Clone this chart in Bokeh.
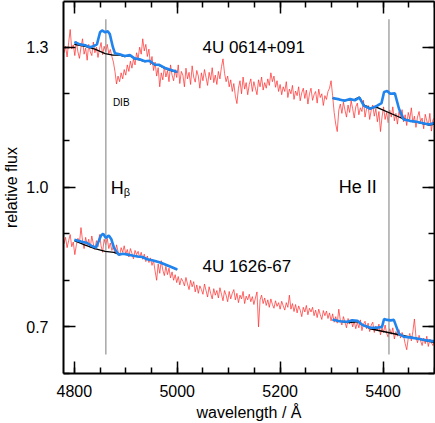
import numpy as np
from bokeh.plotting import figure
from bokeh.models import LinearAxis, FixedTicker, Range1d, Label
from bokeh.embed import file_html
from bokeh.resources import INLINE

FONT = "Liberation Sans"

# sampling grid of the observed spectra (Angstrom)
wl_start = 4780
wl_step = 3

# 4U 0614+091 observed spectrum (relative flux), 4780..5500 A
top_flux = [
    1.288, 1.302, 1.279, 1.310, 1.338, 1.296, 1.305, 1.282, 1.312, 1.290,
    1.276, 1.300, 1.318, 1.285, 1.298, 1.272, 1.306, 1.290, 1.282, 1.311,
    1.288, 1.300, 1.278, 1.296, 1.310, 1.284, 1.302, 1.290, 1.306, 1.286,
    1.295, 1.280, 1.268, 1.248, 1.221, 1.238, 1.226, 1.245, 1.232, 1.252,
    1.240, 1.262, 1.248, 1.270, 1.255, 1.275, 1.262, 1.288, 1.276, 1.300,
    1.285, 1.318, 1.292, 1.306, 1.280, 1.296, 1.262, 1.280, 1.250, 1.268,
    1.238, 1.256, 1.215, 1.245, 1.230, 1.258, 1.236, 1.250, 1.226, 1.262,
    1.240, 1.228, 1.252, 1.235, 1.262, 1.222, 1.248, 1.240, 1.215, 1.255,
    1.232, 1.246, 1.220, 1.260, 1.236, 1.225, 1.250, 1.238, 1.212, 1.245,
    1.228, 1.252, 1.235, 1.218, 1.246, 1.230, 1.256, 1.224, 1.240, 1.220,
    1.248, 1.232, 1.258, 1.275, 1.244, 1.226, 1.238, 1.215, 1.230, 1.205,
    1.222, 1.195, 1.179, 1.212, 1.228, 1.200, 1.236, 1.210, 1.224, 1.198,
    1.220, 1.232, 1.205, 1.226, 1.212, 1.198, 1.230, 1.215, 1.236, 1.208,
    1.224, 1.212, 1.232, 1.218, 1.245, 1.226, 1.238, 1.214, 1.228, 1.205,
    1.220, 1.198, 1.215, 1.205, 1.226, 1.192, 1.210, 1.200, 1.218, 1.188,
    1.206, 1.196, 1.215, 1.185, 1.202, 1.212, 1.190, 1.208, 1.178, 1.200,
    1.212, 1.186, 1.198, 1.205, 1.180, 1.210, 1.192, 1.200, 1.175, 1.196,
    1.188, 1.205, 1.212, 1.228, 1.196, 1.160, 1.135, 1.119, 1.165, 1.178,
    1.158, 1.182, 1.165, 1.150, 1.176, 1.160, 1.185, 1.168, 1.148, 1.172,
    1.180, 1.155, 1.170, 1.162, 1.186, 1.150, 1.168, 1.175, 1.145, 1.165,
    1.176, 1.152, 1.168, 1.140, 1.162, 1.119, 1.150, 1.172, 1.145, 1.160,
    1.138, 1.165, 1.150, 1.172, 1.142, 1.158, 1.135, 1.162, 1.148, 1.166,
    1.140, 1.155, 1.132, 1.160, 1.146, 1.170, 1.138, 1.152, 1.128, 1.150,
    1.162, 1.140, 1.148, 1.125, 1.156, 1.142, 1.132, 1.158, 1.120, 1.145,
    1.148,
]

# 4U 1626-67 observed spectrum (relative flux), 4780..5500 A
bot_flux = [
    0.878, 0.892, 0.870, 0.885, 0.898, 0.872, 0.882, 0.855, 0.876, 0.890,
    0.880, 0.913, 0.885, 0.868, 0.892, 0.876, 0.888, 0.870, 0.895, 0.878,
    0.866, 0.885, 0.872, 0.898, 0.874, 0.860, 0.888, 0.876, 0.890, 0.868,
    0.880, 0.864, 0.872, 0.858, 0.876, 0.862, 0.852, 0.870, 0.860, 0.874,
    0.856, 0.866, 0.850, 0.868, 0.858, 0.846, 0.864, 0.855, 0.862, 0.848,
    0.860, 0.845, 0.856, 0.840, 0.852, 0.838, 0.848, 0.832, 0.842, 0.820,
    0.800, 0.835, 0.815, 0.842, 0.822, 0.810, 0.830, 0.812, 0.826, 0.805,
    0.818, 0.800, 0.812, 0.795, 0.808, 0.790, 0.804, 0.798, 0.788, 0.806,
    0.792, 0.780, 0.800, 0.786, 0.797, 0.775, 0.790, 0.772, 0.788, 0.780,
    0.770, 0.792, 0.778, 0.764, 0.786, 0.772, 0.760, 0.782, 0.768, 0.778,
    0.762, 0.784, 0.770, 0.756, 0.778, 0.768, 0.754, 0.776, 0.760, 0.772,
    0.780, 0.758, 0.772, 0.752, 0.768, 0.760, 0.776, 0.750, 0.766, 0.758,
    0.770, 0.754, 0.765, 0.748, 0.762, 0.775, 0.700, 0.758, 0.768, 0.750,
    0.762, 0.746, 0.758, 0.742, 0.760, 0.748, 0.740, 0.756, 0.744, 0.752,
    0.738, 0.755, 0.745, 0.736, 0.752, 0.742, 0.768, 0.738, 0.750, 0.733,
    0.748, 0.730, 0.745, 0.736, 0.722, 0.742, 0.732, 0.746, 0.726, 0.740,
    0.732, 0.742, 0.724, 0.736, 0.720, 0.738, 0.726, 0.716, 0.735, 0.724,
    0.734, 0.718, 0.730, 0.713, 0.728, 0.710, 0.722, 0.708, 0.738, 0.714,
    0.704, 0.722, 0.710, 0.698, 0.718, 0.706, 0.715, 0.700, 0.712, 0.696,
    0.710, 0.698, 0.715, 0.692, 0.706, 0.712, 0.696, 0.708, 0.690, 0.704,
    0.710, 0.688, 0.702, 0.692, 0.706, 0.683, 0.698, 0.688, 0.704, 0.686,
    0.678, 0.696, 0.684, 0.698, 0.674, 0.690, 0.680, 0.694, 0.676, 0.688,
    0.680, 0.664, 0.651, 0.676, 0.686, 0.670, 0.690, 0.717, 0.678, 0.666,
    0.682, 0.670, 0.660, 0.676, 0.664, 0.680, 0.658, 0.674, 0.666, 0.660,
    0.670,
]

# model (blue) and continuum (black) curves
tl_wl = [4800, 4811, 4821, 4830, 4837, 4844, 4850, 4854, 4860, 4865, 4869, 4875, 4879,
         4888, 4898, 4908, 4917, 4927, 4937, 4946, 4956, 4965, 4975, 4985, 5000]
tl_model = [1.311, 1.306, 1.304, 1.300, 1.302, 1.306, 1.332, 1.336, 1.332, 1.334, 1.328, 1.300, 1.287,
            1.285, 1.281, 1.283, 1.276, 1.274, 1.270, 1.271, 1.263, 1.262, 1.256, 1.252, 1.247]
tl_cont_wl = [4800, 4821, 4840, 4860, 4875, 4888, 4898, 4908, 4917, 4927, 4937, 4946,
              4956, 4965, 4975, 4985, 5000]
tl_cont = [1.306, 1.302, 1.296, 1.286, 1.283, 1.283, 1.280, 1.282, 1.275, 1.273, 1.269, 1.270,
           1.262, 1.261, 1.255, 1.251, 1.246]

tr_wl = [5302, 5315, 5325, 5336, 5345, 5354, 5363, 5375, 5388, 5397, 5402, 5408, 5414,
         5423, 5431, 5440, 5452, 5465, 5478, 5490, 5500]
tr_model = [1.191, 1.188, 1.185, 1.189, 1.186, 1.192, 1.174, 1.168, 1.174, 1.180, 1.204, 1.206, 1.200,
            1.201, 1.168, 1.145, 1.142, 1.140, 1.137, 1.134, 1.138]
tr_cont_wl = [5302, 5325, 5345, 5354, 5363, 5375, 5388, 5440, 5465, 5490, 5500]
tr_cont = [1.190, 1.186, 1.188, 1.193, 1.176, 1.170, 1.171, 1.146, 1.139, 1.133, 1.135]

bl_wl = [4800, 4813, 4825, 4833, 4842, 4852, 4856, 4861, 4867, 4872, 4877, 4886, 4895,
         4904, 4913, 4923, 4932, 4942, 4955, 4967, 4985, 5000]
bl_model = [0.887, 0.883, 0.880, 0.874, 0.870, 0.896, 0.900, 0.891, 0.896, 0.888, 0.870, 0.855, 0.857,
            0.855, 0.853, 0.851, 0.850, 0.845, 0.842, 0.838, 0.830, 0.823]
bl_cont_wl = [4800, 4820, 4840, 4860, 4877, 4886, 4895, 4904, 4913, 4923, 4932, 4942,
              4955, 4967, 4985, 5000]
bl_cont = [0.885, 0.876, 0.868, 0.862, 0.860, 0.856, 0.857, 0.855, 0.853, 0.851, 0.850, 0.845,
           0.842, 0.838, 0.830, 0.823]

br_wl = [5302, 5315, 5331, 5340, 5350, 5360, 5375, 5388, 5398, 5402, 5408, 5415, 5421,
         5431, 5440, 5455, 5471, 5485, 5500]
br_model = [0.716, 0.712, 0.711, 0.714, 0.713, 0.704, 0.698, 0.698, 0.700, 0.717, 0.715, 0.714, 0.715,
            0.685, 0.679, 0.677, 0.674, 0.671, 0.669]
br_cont_wl = [5302, 5331, 5350, 5375, 5440, 5470, 5500]
br_cont = [0.715, 0.709, 0.711, 0.696, 0.681, 0.674, 0.666]

# line markers
line_wl = [4861.3, 5411.5]
line_bottom = 0.641
line_top = 1.36

x_ticks = [4800, 5000, 5200, 5400]
x_minor = [4800, 4850, 4900, 4950, 5000, 5050, 5100, 5150, 5200, 5250, 5300, 5350, 5400, 5450, 5500]
y_ticks = [0.7, 1.0, 1.3]
y_minor = [0.6, 0.7, 0.8, 0.9, 1.0, 1.1, 1.2, 1.3]

wl = wl_start + wl_step * np.arange(len(top_flux))

p = figure(width=435, height=423, x_range=Range1d(4779, 5500), y_range=Range1d(0.6, 1.398),
           output_backend="svg", toolbar_location=None,
           min_border_left=58, min_border_right=1, min_border_top=1, min_border_bottom=47)
p.outline_line_color = None
p.xgrid.visible = False
p.ygrid.visible = False
p.background_fill_color = "white"
p.border_fill_color = "white"

xt = FixedTicker(ticks=x_ticks, minor_ticks=x_minor)
yt = FixedTicker(ticks=y_ticks, minor_ticks=y_minor)


def style_axis(ax):
    ax.axis_line_width = 2
    ax.axis_line_color = "black"
    ax.major_tick_in = 12
    ax.major_tick_out = 0
    ax.minor_tick_in = 6
    ax.minor_tick_out = 0
    ax.major_tick_line_width = 1.5
    ax.minor_tick_line_width = 1.5
    ax.major_tick_line_color = "black"
    ax.minor_tick_line_color = "black"
    ax.major_label_text_font = FONT
    ax.major_label_text_font_size = "16px"
    ax.major_label_text_color = "black"
    ax.axis_label_text_font = FONT
    ax.axis_label_text_font_size = "16px"
    ax.axis_label_text_font_style = "normal"
    ax.axis_label_text_color = "black"


p.xaxis.ticker = xt
p.yaxis.ticker = yt
style_axis(p.xaxis[0])
style_axis(p.yaxis[0])
p.xaxis.major_label_standoff = 11
p.yaxis.major_label_standoff = 15
p.yaxis.major_label_overrides = {0.7: "0.7", 1.0: "1.0", 1.3: "1.3"}
p.xaxis.axis_label = "wavelength / Å"
p.xaxis.axis_label_standoff = 4
p.yaxis.axis_label = "relative flux"
p.yaxis.axis_label_standoff = 3

ax_r = LinearAxis(ticker=yt)
style_axis(ax_r)
ax_r.major_label_overrides = {t: "" for t in y_ticks}
ax_r.major_label_text_font_size = "1px"
ax_r.major_label_standoff = 0
p.add_layout(ax_r, "right")
ax_t = LinearAxis(ticker=xt)
style_axis(ax_t)
ax_t.major_label_overrides = {t: "" for t in x_ticks}
ax_t.major_label_text_font_size = "1px"
ax_t.major_label_standoff = 0
p.add_layout(ax_t, "above")

red = "#ff2a2a"
p.line(wl, top_flux, line_color=red, line_width=1, line_alpha=0.7)
p.line(wl, bot_flux, line_color=red, line_width=1, line_alpha=0.7)

p.segment(x0=line_wl, x1=line_wl, y0=[line_bottom] * 2, y1=[line_top] * 2,
          line_color="#999999", line_width=1.3)

blue = "#1f84ee"
for cwl, cf in [(tl_cont_wl, tl_cont), (tr_cont_wl, tr_cont), (bl_cont_wl, bl_cont), (br_cont_wl, br_cont)]:
    p.line(cwl, cf, line_color="black", line_width=1.3)
for mwl, mf in [(tl_wl, tl_model), (tr_wl, tr_model), (bl_wl, bl_model), (br_wl, br_model)]:
    p.line(mwl, mf, line_color=blue, line_width=2.6)


def add_text(x, y, text, size, **kw):
    p.add_layout(Label(x=x, y=y, text=text, text_font=FONT, text_font_size=size,
                       text_color="black", text_baseline="alphabetic", **kw))


add_text(5049, 1.300, "4U 0614+091", "17px")
add_text(5049, 0.829, "4U 1626-67", "17px")
add_text(4875, 1.181, "DIB", "10px")
add_text(4871, 0.998, "H", "18px")
add_text(4896, 0.989, "β", "11px")
add_text(5314, 1.000, "He II", "18px")

open("out.html", "w").write(file_html(p, INLINE))
